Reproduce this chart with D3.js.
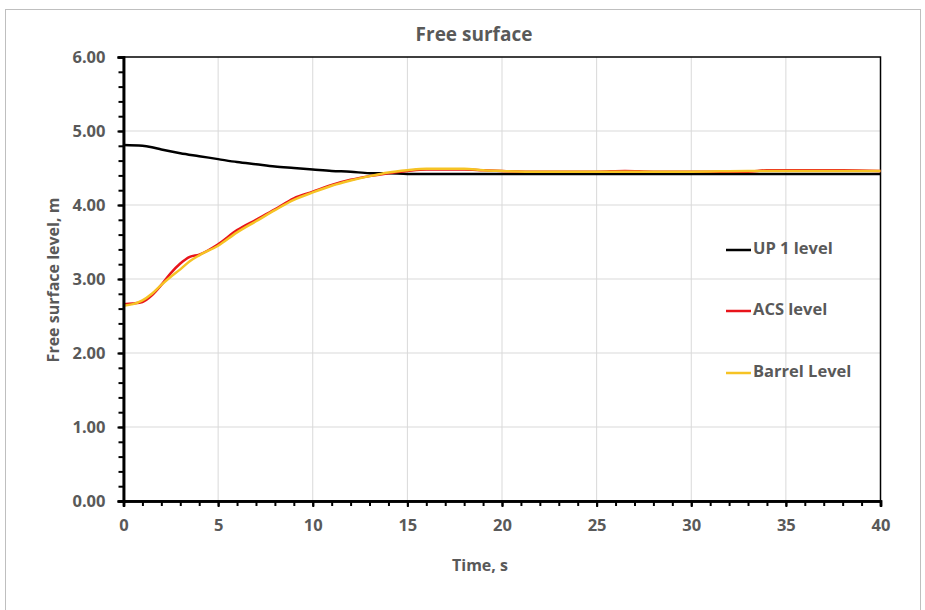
<!DOCTYPE html>
<html>
<head>
<meta charset="utf-8">
<script src="https://cdn.jsdelivr.net/npm/d3@7"></script>
<style>
  body { margin: 0; background: #fff; }
  text { font-family: "Open Sans", "Noto Sans", sans-serif; fill: #595959; }
</style>
</head>
<body>
<svg id="chart" width="925" height="610"></svg>
<script>
// time, s and free surface level, m
var upTime = [0, 1, 1.5, 2, 3, 4, 5, 6, 7, 8, 9, 10, 11, 12, 13, 14, 15, 20, 25, 30, 35, 40]
var upLevel = [4.81, 4.80, 4.78, 4.75, 4.70, 4.66, 4.62, 4.58, 4.55, 4.52, 4.50, 4.48, 4.46, 4.45, 4.43, 4.43, 4.42, 4.42, 4.42, 4.42, 4.42, 4.42]

var acsTime = [0, 0.5, 1, 1.5, 2, 2.5, 3, 3.5, 4, 5, 6, 7, 8, 9, 10, 11, 12, 13, 14, 15, 16, 17, 18, 19, 20, 22, 25, 26.5, 28, 30, 33, 34, 36, 38, 40]
var acsLevel = [2.66, 2.67, 2.69, 2.78, 2.92, 3.08, 3.21, 3.30, 3.33, 3.47, 3.66, 3.80, 3.94, 4.09, 4.18, 4.27, 4.34, 4.39, 4.43, 4.46, 4.48, 4.48, 4.48, 4.47, 4.46, 4.45, 4.45, 4.46, 4.45, 4.45, 4.45, 4.47, 4.47, 4.47, 4.46]

var barrelTime = [0, 0.5, 1, 1.5, 2, 2.5, 3, 3.5, 4, 5, 6, 7, 8, 9, 10, 11, 12, 13, 14, 15, 16, 17, 18, 19, 20, 22, 25, 30, 33, 35, 38, 40]
var barrelLevel = [2.64, 2.66, 2.71, 2.80, 2.92, 3.03, 3.13, 3.24, 3.32, 3.45, 3.63, 3.78, 3.93, 4.07, 4.17, 4.26, 4.33, 4.39, 4.44, 4.47, 4.49, 4.49, 4.49, 4.47, 4.46, 4.45, 4.45, 4.45, 4.46, 4.46, 4.46, 4.46]

var seriesNames = ["UP 1 level", "ACS level", "Barrel Level"]
var seriesColors = ["#000000", "#e8141b", "#f6c324"]

var xTicks = [0, 5, 10, 15, 20, 25, 30, 35, 40]
var yTicks = [0, 1, 2, 3, 4, 5, 6]

var svg = d3.select("#chart")
var pLeft = 123.5, pRight = 880.5, pTop = 57, pBottom = 501

// outer chart box
svg.append("rect").attr("x", 5.5).attr("y", 9.5).attr("width", 915).attr("height", 620)
    .attr("fill", "none").attr("stroke", "#bfbfbf").attr("stroke-width", 1)

var x = d3.scaleLinear().domain([0, 40]).range([pLeft, pRight])
var y = d3.scaleLinear().domain([0, 6]).range([pBottom, pTop])

// gridlines
svg.append("g").selectAll("line").data(yTicks.slice(1, -1)).join("line")
    .attr("x1", pLeft).attr("x2", pRight).attr("y1", d => y(d)).attr("y2", d => y(d))
    .attr("stroke", "#d9d9d9").attr("stroke-width", 1)
svg.append("g").selectAll("line").data(xTicks.slice(1, -1)).join("line")
    .attr("x1", d => x(d)).attr("x2", d => x(d)).attr("y1", pTop).attr("y2", pBottom)
    .attr("stroke", "#d9d9d9").attr("stroke-width", 1)

// frame
svg.append("rect").attr("x", pLeft).attr("y", pTop).attr("width", pRight - pLeft).attr("height", pBottom - pTop)
    .attr("fill", "none").attr("stroke", "#000").attr("stroke-width", 1.5)

// lines
var line = d3.line().x(d => x(d[0])).y(d => y(d[1])).curve(d3.curveMonotoneX)
var series = [d3.zip(upTime, upLevel), d3.zip(acsTime, acsLevel), d3.zip(barrelTime, barrelLevel)]
series.forEach(function (s, i) {
    svg.append("path").datum(s).attr("d", line)
        .attr("fill", "none").attr("stroke", seriesColors[i]).attr("stroke-width", 2.5)
        .attr("stroke-linejoin", "round")
})

// axes
var yAxis = d3.axisLeft(y).tickValues(yTicks).tickFormat(d3.format(".2f")).tickSize(6).tickPadding(12)
var yMinor = d3.axisLeft(y).tickValues(d3.range(0, 30).map(d => d / 5)).tickSize(5).tickFormat("")
var xAxis = d3.axisBottom(x).tickValues(xTicks).tickFormat(d3.format("d")).tickSize(6).tickPadding(12)
var xMinor = d3.axisBottom(x).tickValues(d3.range(0, 41)).tickSize(5).tickFormat("")

function styleAxis(g) {
    g.select(".domain").attr("stroke", "#000").attr("stroke-width", 2.5)
    g.selectAll(".tick line").attr("stroke", "#000").attr("stroke-width", 2)
    g.selectAll(".tick text").style("font-size", "16.5px").style("font-weight", 700).attr("fill", "#595959")
}
svg.append("g").attr("transform", "translate(" + pLeft + ",0)").call(yMinor).call(styleAxis)
svg.append("g").attr("transform", "translate(" + pLeft + ",0)").call(yAxis).call(styleAxis)
svg.append("g").attr("transform", "translate(0," + pBottom + ")").call(xMinor).call(styleAxis)
svg.append("g").attr("transform", "translate(0," + pBottom + ")").call(xAxis).call(styleAxis)

// titles
svg.append("text").attr("x", 474).attr("y", 41).attr("text-anchor", "middle")
    .style("font-size", "19px").style("font-weight", 700).text("Free surface")
svg.append("text").attr("x", 480).attr("y", 571).attr("text-anchor", "middle")
    .style("font-size", "16px").style("font-weight", 700).text("Time, s")
svg.append("text").attr("transform", "translate(59,280) rotate(-90)").attr("text-anchor", "middle")
    .style("font-size", "16px").style("font-weight", 700).text("Free surface level, m")

// legend
var legendY = [250, 311, 373]
seriesNames.forEach(function (name, i) {
    svg.append("line").attr("x1", 726).attr("x2", 751).attr("y1", legendY[i]).attr("y2", legendY[i])
        .attr("stroke", seriesColors[i]).attr("stroke-width", 2.5)
    svg.append("text").attr("x", 753).attr("y", legendY[i]).attr("dominant-baseline", "middle")
        .style("font-size", "16.5px").style("font-weight", 700).text(name)
})
</script>
</body>
</html>
